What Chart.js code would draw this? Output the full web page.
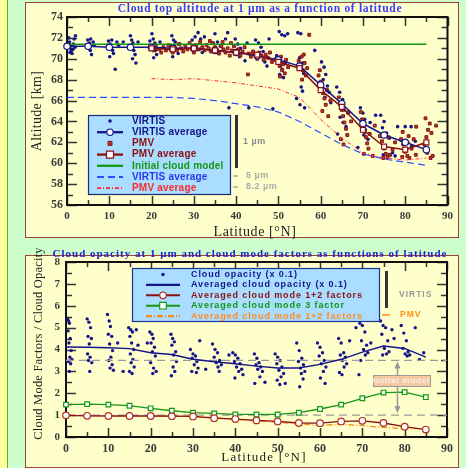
<!DOCTYPE html>
<html>
<head>
<meta charset="utf-8">
<script src="https://cdn.jsdelivr.net/npm/chart.js@4/dist/chart.umd.min.js"></script>
<style>
  body { margin: 0; width: 466px; height: 468px; background: #ccffcc; position: relative; overflow: hidden; }
  #strip { position: absolute; left: 0; top: 0; width: 7px; height: 468px; background: #ffff99; border-right: 1px solid #66aa33; }
  .panel { position: absolute; background: #ffffcc; border: 1px solid #a0403a; }
  #p1 { left: 25px; top: 2px; width: 432px; height: 234px; }
  #p2 { left: 25px; top: 255px; width: 432px; height: 211px; }
  canvas { position: absolute; }
  #c1 { left: 25px; top: 0px; }
  #c2 { left: 25px; top: 244px; }
</style>
</head>
<body>
<div id="strip"></div>
<div class="panel" id="p1"></div>
<div class="panel" id="p2"></div>
<canvas id="c1" width="433" height="240"></canvas>
<canvas id="c2" width="433" height="224"></canvas>
<script>
// ---------- Data: cloud top altitude (upper chart) ----------
const latGrid = [0, 5, 10, 15, 20, 25, 30, 35, 40, 45, 50, 55, 60, 65, 70, 75, 80, 85];
const virtisAvg1um = [71.2, 71.2, 71.1, 71.1, 71.1, 71.0, 71.0, 70.8, 70.6, 70.3, 69.9, 69.3, 67.5, 65.7, 63.8, 62.7, 62.0, 61.3];
const pmvLat = [20, 25, 30, 35, 40, 45, 50, 55, 60, 65, 70, 75, 80, 85];
const pmvAvg1um = [71.0, 70.9, 71.0, 70.8, 70.6, 70.4, 69.7, 69.1, 67.0, 65.4, 63.2, 61.6, 61.3, 62.0];
const initialModelLat = [0, 85];
const initialModelAlt = [71.4, 71.4];
const virtisAvg5um = [66.3, 66.3, 66.3, 66.3, 66.3, 66.3, 66.2, 66.0, 65.7, 65.4, 64.9, 64.0, 62.9, 61.8, 60.9, 60.4, 60.1, 59.8];
const pmvAvg82um = [68.1, 68.0, 68.1, 67.9, 67.7, 67.4, 67.1, 66.3, 64.2, 62.4, 61.0, 60.5, 60.3, 60.5];

// individual retrievals [latitude, altitude km]
const virtisPoints = [
  [0.4,72.0],[0.6,71.6],[0.8,71.2],[1.0,70.8],[1.2,70.5],[1.5,71.4],[1.7,71.9],[2.0,72.2],[1.4,70.9],[0.7,70.6],[1.9,71.1],
  [4.9,71.8],[5.3,71.5],[5.6,71.9],[5.1,71.1],[5.5,70.8],[5.8,70.4],[6.2,71.6],[6.4,71.3],
  [9.8,71.7],[10.2,71.4],[10.6,71.8],[10.4,71.1],[10.8,70.8],[11.0,70.5],[10.1,70.2],[11.4,69.0],[11.8,71.6],[12.2,71.3],[13.3,71.6],
  [15.0,72.2],[15.3,71.8],[15.6,71.5],[15.2,71.1],[15.8,70.8],[16.1,70.4],[15.5,70.0],[16.3,69.6],[16.8,71.6],
  [19.6,71.7],[20.1,72.4],[20.4,71.9],[20.8,71.5],[20.3,71.1],[20.9,70.8],[21.2,70.4],[20.5,70.1],[22.0,71.6],
  [24.8,72.2],[25.2,71.8],[25.6,71.6],[25.3,71.2],[25.9,70.9],[26.3,70.5],[25.0,70.2],[26.7,71.4],
  [29.6,71.8],[30.3,72.1],[31.0,72.5],[31.6,71.9],[30.6,71.3],[31.3,70.9],[32.0,70.6],[32.5,72.1],
  [35.0,72.4],[35.6,71.6],[36.3,71.2],[37.0,70.8],[35.8,70.5],[37.5,71.9],[38.0,72.5],
  [39.8,71.9],[40.4,71.4],[41.0,71.0],[41.5,70.6],[40.8,70.2],[42.1,69.8],[42.6,71.5],
  [44.6,71.8],[45.3,71.5],[45.9,71.1],[46.4,70.7],[45.5,70.2],[46.8,69.7],[47.3,69.3],[47.8,71.9],
  [50.2,72.6],[50.8,72.3],[51.5,72.2],[52.2,72.4],[54.6,72.5],[55.3,72.4],
  [49.6,70.3],[50.2,69.8],[50.5,69.3],[50.9,69.0],[50.3,68.5],[51.2,68.2],[51.6,69.6],
  [55.0,70.1],[55.6,69.6],[55.3,69.0],[56.0,68.6],[55.4,67.3],[55.7,66.9],[55.1,65.6],[56.2,65.3],[54.3,66.2],
  [38.3,65.3],[43.0,65.3],[48.7,65.2],
  [58.6,70.8],[60.2,69.7],[60.8,69.2],[61.2,68.5],[60.6,68.0],[61.6,67.4],[60.4,66.9],[61.0,66.3],[62.0,66.8],[62.4,65.8],
  [63.8,67.3],[64.5,66.8],[65.2,66.1],[64.8,65.6],[65.6,65.1],[64.6,64.4],[65.3,63.9],[66.0,63.5],[66.4,64.8],[64.0,62.8],[68.8,61.5],
  [69.4,65.3],[70.0,64.8],[70.4,64.2],[69.8,63.7],[70.6,63.2],[70.2,62.7],[71.2,62.3],[71.7,63.9],
  [73.0,64.6],[74.2,64.6],[75.0,64.0],[74.6,63.4],[75.6,62.9],[76.2,62.4],[77.0,61.0],[77.6,60.7],[74.8,60.8],[76.4,60.8],
  [78.2,63.5],[80.0,63.5],[81.4,63.5],[79.0,62.2],[80.6,62.0],[81.5,61.6],[82.4,62.1]
];
const pmvPoints = [
  [20.0,71.0],[20.5,70.8],[21.0,71.2],[21.8,70.9],[22.3,70.6],[22.8,71.1],[23.4,70.8],[24.0,71.3],[24.5,70.9],[25.0,70.6],[25.5,71.1],[26.0,70.8],
  [26.5,71.4],[27.0,71.0],[27.5,70.7],[28.0,71.2],[28.5,70.9],[29.0,71.5],[29.5,71.0],[30.0,70.6],[30.5,71.3],[31.0,70.9],[31.5,71.6],[32.0,71.1],
  [32.5,70.8],[33.0,71.3],[33.5,71.0],[34.0,70.7],[34.5,71.5],[35.0,71.1],[35.5,70.8],[36.0,70.5],[36.5,71.2],[37.0,70.9],[33.8,71.7],[36.8,71.6],
  [37.5,70.6],[38.0,71.0],[38.5,70.3],[39.0,70.8],[39.5,71.2],[40.0,70.5],[40.5,70.9],[41.0,70.3],[41.5,70.7],[42.0,71.1],[42.8,68.5],[38.8,71.5],
  [43.0,70.5],[43.5,70.2],[44.0,70.7],[44.5,70.4],[45.0,70.0],[45.5,70.6],[46.0,70.3],[46.5,69.9],[47.0,70.4],[47.5,70.1],[48.0,70.6],[48.5,69.7],
  [49.5,70.0],[50.0,69.6],[50.3,69.3],[50.6,70.2],[50.9,68.9],[51.2,69.5],[51.5,68.6],[50.4,68.3],[51.8,69.9],[52.3,69.2],
  [54.8,69.8],[55.2,69.4],[55.5,70.2],[55.8,68.9],[56.2,69.6],[56.5,68.4],[55.6,68.0],[56.0,70.4],[57.3,72.3],[56.8,69.1],
  [59.5,68.4],[60.0,67.8],[60.3,67.2],[60.6,66.7],[60.9,66.2],[61.2,65.6],[61.5,67.0],[60.4,65.0],[61.8,64.5],[62.3,66.0],[59.8,68.9],
  [64.3,66.3],[64.6,65.7],[65.0,65.1],[65.3,64.5],[65.6,63.9],[66.0,63.3],[66.3,62.7],[64.8,62.3],[65.4,61.8],[66.6,64.9],[67.2,64.0],
  [69.5,64.9],[69.8,64.2],[70.1,63.6],[70.4,63.0],[70.7,62.5],[71.0,61.9],[71.3,61.4],[70.2,60.9],[71.6,62.8],[72.3,60.7],[72.8,63.6],
  [74.0,62.6],[74.5,62.1],[75.0,61.4],[75.4,60.9],[75.8,60.6],[76.4,60.8],[77.0,61.3],[74.8,60.5],[77.6,62.0],[76.0,62.5],
  [79.0,62.3],[79.5,61.8],[80.0,61.1],[80.5,60.7],[81.0,60.5],[81.5,61.4],[82.0,62.3],[80.8,62.6],[82.5,60.8],[79.3,60.6],[79.4,63.0],[82.6,63.5],
  [84.5,61.8],[85.0,62.5],[85.4,63.2],[85.8,63.8],[86.2,62.9],[85.2,61.0],[86.5,60.7],[84.8,64.3],[87.3,63.6],[86.0,60.5]
];

// ---------- Data: cloud opacity & mode factors (lower chart) ----------
const opacityAvg = [4.11, 4.10, 4.08, 4.04, 3.85, 3.77, 3.55, 3.44, 3.35, 3.24, 3.16, 3.16, 3.32, 3.55, 3.88, 4.16, 4.05, 3.65];
const mode12Avg = [0.99, 0.97, 0.96, 0.96, 0.96, 0.95, 0.94, 0.86, 0.82, 0.76, 0.71, 0.64, 0.63, 0.71, 0.74, 0.64, 0.47, 0.34];
const mode3Avg = [1.48, 1.50, 1.48, 1.43, 1.31, 1.20, 1.11, 1.08, 1.03, 1.03, 1.03, 1.11, 1.28, 1.48, 1.77, 2.03, 2.05, 1.82];
const pmvMode12Lat = [20, 25, 30, 35, 40, 45, 50, 55, 60, 65, 70, 75, 80, 85];
const pmvMode12 = [0.96, 0.95, 0.95, 0.88, 0.81, 0.74, 0.67, 0.60, 0.53, 0.58, 0.52, 0.44, 0.38, 0.38];
const initialModelLevels = [3.5, 1.0];
const opacityPoints = [
  [0.4,5.4],[0.6,5.3],[0.8,5.2],[0.5,4.85],[1.0,4.5],[0.7,4.3],[1.2,3.95],[0.9,3.65],[1.4,3.55],[0.6,3.45],[1.1,3.35],[0.8,3.0],
  [5.0,5.4],[5.4,5.25],[5.8,5.0],[5.2,4.6],[6.0,4.5],[5.5,4.25],[5.1,3.8],[5.7,3.65],[5.3,3.5],[6.1,3.4],[5.6,3.0],
  [9.8,5.6],[10.2,5.3],[10.5,5.05],[10.0,4.7],[10.8,4.6],[10.3,4.25],[11.0,3.95],[10.6,3.65],[10.1,3.5],[10.9,3.3],[10.4,3.15],[11.2,3.05],[12.2,4.3],[13.5,3.0],
  [14.8,5.0],[15.3,4.9],[15.7,4.8],[15.1,4.6],[15.5,4.3],[16.0,4.0],[15.2,3.8],[15.8,3.55],[15.4,3.4],[16.1,3.2],[15.0,3.0],[15.6,2.9],[16.6,4.9],[17.0,4.2],
  [19.2,4.3],[19.8,4.8],[20.3,4.7],[20.6,4.5],[20.1,4.3],[20.9,4.1],[20.4,3.9],[21.1,3.7],[20.0,3.4],[20.7,3.15],[21.3,3.0],[20.5,2.9],
  [24.8,4.7],[25.2,4.5],[25.6,4.35],[25.0,4.2],[25.9,3.9],[25.4,3.75],[26.1,3.45],[25.3,3.2],[25.7,3.0],[24.9,2.8],
  [29.4,4.0],[30.0,3.8],[30.6,3.7],[29.8,3.6],[30.9,3.45],[30.3,3.3],[31.2,3.15],[29.7,3.0],[30.8,2.95],[31.6,4.4],[33.0,3.1],
  [34.6,4.25],[35.2,4.0],[35.8,3.85],[35.0,3.65],[36.3,3.5],[35.5,3.4],[36.7,3.3],[35.9,3.2],[36.2,3.0],[38.5,3.75],
  [39.4,3.85],[40.0,3.75],[40.6,3.6],[39.8,3.45],[41.1,3.35],[40.3,3.2],[41.5,3.1],[40.8,3.0],[41.8,2.85],[39.9,2.7],
  [44.5,3.8],[45.1,3.6],[45.6,3.4],[44.9,3.3],[46.0,3.2],[45.3,3.1],[46.4,3.0],[45.8,2.75],[44.6,2.45],[47.0,2.5],
  [49.4,3.8],[50.0,3.65],[50.6,3.5],[49.8,3.35],[51.0,3.2],[50.3,3.05],[51.4,2.9],[50.8,2.75],[49.9,2.6],[50.5,2.4],[51.8,2.45],
  [54.5,4.3],[55.1,3.95],[55.7,3.6],[54.9,3.45],[56.1,3.3],[55.4,3.15],[56.4,3.0],[55.6,2.9],[56.0,2.65],[55.2,2.3],
  [59.4,4.3],[60.0,4.1],[60.6,3.85],[59.8,3.7],[61.0,3.5],[60.3,3.35],[61.4,3.2],[60.8,3.0],[60.1,2.7],[61.2,2.45],
  [64.4,4.5],[65.0,4.3],[65.6,3.85],[64.8,3.75],[66.0,3.65],[65.3,3.5],[66.3,3.35],[65.7,3.2],[64.6,2.95],[65.2,2.85],[67.0,4.4],
  [68.5,5.0],[69.4,5.2],[70.0,5.1],[70.6,4.8],[69.8,4.4],[71.0,4.2],[70.3,4.0],[71.3,3.85],[70.7,3.75],[69.6,3.5],[69.2,2.85],[72.0,4.3],
  [74.3,5.3],[74.9,5.1],[75.5,5.0],[74.6,4.7],[76.0,4.4],[75.2,4.05],[76.3,3.9],[75.7,3.8],[74.8,3.75],[77.0,4.9],[77.5,4.5],
  [79.2,5.1],[79.8,4.75],[80.4,4.4],[79.6,4.05],[80.8,3.9],[80.1,3.8],[81.2,3.75],[80.6,3.7],[82.5,5.0],[83.5,3.55],[84.5,3.85]
];

// Colours
const NAVY = '#15158a';
const DARKRED = '#8b1010';
const GREEN = '#139913';
const BLUE = '#2a4dff';
const RED = '#ff2a2a';
const ORANGE = '#ff8c1a';

const toXY = (xs, ys) => xs.map((x, i) => ({ x: x, y: ys[i] }));
const pairs = arr => arr.map(p => ({ x: p[0], y: p[1] }));

function drawMarker(ctx, style, r, x, y, fill, stroke, lw) {
    ctx.beginPath();
    if (style === 'rect') {
        ctx.rect(x - r, y - r, 2 * r, 2 * r);
    } else {
        ctx.arc(x, y, r, 0, Math.PI * 2);
    }
    ctx.fillStyle = fill;
    ctx.fill();
    if (lw > 0) {
        ctx.lineWidth = lw;
        ctx.strokeStyle = stroke;
        ctx.stroke();
    }
}

function text(ctx, str, x, y, font, color, align, spacing) {
    ctx.font = font;
    ctx.fillStyle = color;
    ctx.textAlign = align || 'left';
    ctx.textBaseline = 'middle';
    ctx.letterSpacing = (spacing || 0) + 'px';
    ctx.fillText(str, x, y);
    ctx.letterSpacing = '0px';
}

// Frame, inward ticks, titles, legend box and side notes
const decorPlugin = {
    id: 'decor',
    beforeDatasetsDraw(chart, args, opts) {
        const ctx = chart.ctx;
        const a = chart.chartArea;
        const xs = chart.scales.x;
        const ys = chart.scales.y;
        ctx.save();
        ctx.strokeStyle = '#333';
        ctx.lineWidth = 1.5;
        const nx = Math.round((xs.max - xs.min) / opts.xMinor);
        for (let i = 0; i <= nx; i++) {
            const px = Math.round(xs.getPixelForValue(xs.min + i * opts.xMinor)) + 0.5;
            const len = (i % 2 === 0) ? 9 : 5;
            ctx.beginPath();
            ctx.moveTo(px, a.bottom); ctx.lineTo(px, a.bottom - len);
            ctx.moveTo(px, a.top); ctx.lineTo(px, a.top + len);
            ctx.stroke();
        }
        const ny = Math.round((ys.max - ys.min) / opts.yMinor);
        for (let i = 0; i <= ny; i++) {
            const py = Math.round(ys.getPixelForValue(ys.min + i * opts.yMinor)) + 0.5;
            const len = (i % 2 === 0) ? 10 : 6;
            ctx.beginPath();
            ctx.moveTo(a.left, py); ctx.lineTo(a.left + len, py);
            ctx.moveTo(a.right, py); ctx.lineTo(a.right - len, py);
            ctx.stroke();
        }
        ctx.strokeStyle = '#111';
        ctx.lineWidth = 2;
        ctx.strokeRect(a.left, a.top, a.right - a.left, a.bottom - a.top);
        ctx.restore();
    },
    afterDraw(chart, args, opts) {
        const ctx = chart.ctx;
        const a = chart.chartArea;
        ctx.save();
        // titles
        const t = opts.title;
        text(ctx, t.text, t.x, t.y, t.font, t.color, 'center', t.spacing);
        const xt = opts.xTitle;
        text(ctx, xt.text, xt.x, xt.y, xt.font, '#222', 'center', xt.spacing);
        const yt = opts.yTitle;
        ctx.save();
        ctx.translate(yt.x, (a.top + a.bottom) / 2 + (yt.dy || 0));
        ctx.rotate(-Math.PI / 2);
        text(ctx, yt.text, 0, 0, yt.font, '#222', 'center', yt.spacing);
        ctx.restore();

        // legend
        const lg = opts.legend;
        ctx.fillStyle = '#aaddff';
        ctx.fillRect(lg.box[0], lg.box[1], lg.box[2], lg.box[3]);
        ctx.strokeStyle = lg.border;
        ctx.lineWidth = 1.2;
        ctx.strokeRect(lg.box[0] + 0.5, lg.box[1] + 0.5, lg.box[2], lg.box[3]);
        lg.rows.forEach((row, i) => {
            const ds = chart.data.datasets[row.ds];
            const yy = lg.rowY + i * lg.rowStep;
            const mx = (lg.lineX[0] + lg.lineX[1]) / 2;
            if (ds.showLine) {
                ctx.setLineDash(ds.borderDash || []);
                ctx.strokeStyle = ds.borderColor;
                ctx.lineWidth = ds.borderWidth + 0.8;
                ctx.beginPath();
                ctx.moveTo(lg.lineX[0], yy);
                ctx.lineTo(lg.lineX[1], yy);
                ctx.stroke();
                ctx.setLineDash([]);
            }
            if (ds.pointRadius > 0) {
                drawMarker(ctx, ds.pointStyle, ds.pointRadius, mx, yy,
                    ds.pointBackgroundColor, ds.pointBorderColor || ds.borderColor, ds.pointBorderWidth || 0);
            }
            text(ctx, ds.label, lg.textX, yy, lg.font, row.color, 'left', lg.spacing);
        });

        // side notes next to the legend
        opts.notes.forEach(n => {
            if (n.bar) {
                ctx.fillStyle = n.color;
                ctx.fillRect(n.bar[0], n.bar[1], n.bar[2], n.bar[3]);
            }
            if (n.dash) {
                ctx.strokeStyle = n.color;
                ctx.lineWidth = 1.5;
                ctx.beginPath();
                ctx.moveTo(n.dash[0], n.dash[2]);
                ctx.lineTo(n.dash[1], n.dash[2]);
                ctx.stroke();
            }
            if (n.text) {
                text(ctx, n.text, n.x, n.y, n.font, n.color, 'left', n.spacing);
            }
        });

        // "Initial model" arrow + label
        if (opts.initialModel) {
            const im = opts.initialModel;
            const px = chart.scales.x.getPixelForValue(im.lat);
            const yTop = chart.scales.y.getPixelForValue(im.levels[0]) + 1;
            const yBot = chart.scales.y.getPixelForValue(im.levels[1]) - 2;
            ctx.strokeStyle = '#999';
            ctx.fillStyle = '#999';
            ctx.lineWidth = 1.5;
            ctx.beginPath();
            ctx.moveTo(px, yTop + 3);
            ctx.lineTo(px, yBot - 3);
            ctx.stroke();
            ctx.beginPath();
            ctx.moveTo(px, yTop); ctx.lineTo(px - 3, yTop + 7); ctx.lineTo(px + 3, yTop + 7); ctx.closePath();
            ctx.moveTo(px, yBot); ctx.lineTo(px - 3, yBot - 7); ctx.lineTo(px + 3, yBot - 7); ctx.closePath();
            ctx.fill();
            ctx.fillStyle = '#f7c9a0';
            ctx.fillRect(im.box[0], im.box[1], im.box[2], im.box[3]);
            ctx.strokeStyle = '#999';
            ctx.lineWidth = 1;
            ctx.strokeRect(im.box[0] + 0.5, im.box[1] + 0.5, im.box[2], im.box[3]);
            text(ctx, im.text, im.box[0] + im.box[2] / 2, im.box[1] + im.box[3] / 2 + 0.5,
                'bold 8px "Liberation Sans"', '#f2f2f2', 'center', 0.8);
        }
        ctx.restore();
    }
};

function axis(min, max, step, size, pad, fit) {
    return {
        type: 'linear',
        min: min,
        max: max,
        ticks: {
            stepSize: step,
            padding: pad,
            color: '#3a3a3a',
            font: { family: '"Liberation Serif"', size: size, weight: 'bold' }
        },
        grid: { display: false, drawTicks: false },
        border: { display: false },
        afterFit: fit
    };
}

// ---------- Upper chart ----------
new Chart(document.getElementById('c1'), {
    type: 'scatter',
    data: {
        datasets: [
            { label: 'VIRTIS', data: pairs(virtisPoints), showLine: false, pointStyle: 'circle', pointRadius: 1.8,
              pointBackgroundColor: NAVY, pointBorderWidth: 0, borderColor: NAVY, order: 7 },
            { label: 'VIRTIS average', data: toXY(latGrid, virtisAvg1um), showLine: true, borderColor: NAVY, borderWidth: 1.5,
              pointStyle: 'circle', pointRadius: 3.2, pointBackgroundColor: '#ffffff', pointBorderColor: NAVY, pointBorderWidth: 1.2, order: 1 },
            { label: 'PMV', data: pairs(pmvPoints), showLine: false, pointStyle: 'rect', pointRadius: 2,
              pointBackgroundColor: '#a84040', pointBorderColor: DARKRED, pointBorderWidth: 1, borderColor: DARKRED, order: 6 },
            { label: 'PMV average', data: toXY(pmvLat, pmvAvg1um), showLine: true, borderColor: DARKRED, borderWidth: 1.5,
              pointStyle: 'rect', pointRadius: 3.5, pointBackgroundColor: '#ffffff', pointBorderColor: DARKRED, pointBorderWidth: 1.2, order: 0 },
            { label: 'Initial cloud model', data: toXY(initialModelLat, initialModelAlt), showLine: true, borderColor: GREEN,
              borderWidth: 1.5, pointRadius: 0, order: 5 },
            { label: 'VIRTIS average', data: toXY(latGrid, virtisAvg5um), showLine: true, borderColor: BLUE, borderWidth: 1.2,
              borderDash: [7, 4], pointRadius: 0, order: 3 },
            { label: 'PMV average', data: toXY(pmvLat, pmvAvg82um), showLine: true, borderColor: RED, borderWidth: 1,
              borderDash: [4, 2, 1, 2], pointRadius: 0, order: 4 }
        ]
    },
    options: {
        responsive: false,
        animation: false,
        events: [],
        clip: 6,
        layout: { padding: { left: 0, right: 10, top: 17, bottom: 0 } },
        plugins: {
            legend: { display: false },
            tooltip: { enabled: false },
            decor: {
                xMinor: 5, yMinor: 1,
                title: { text: 'Cloud top altitude at 1 µm as a function of latitude', x: 235, y: 9,
                         font: 'bold 11.5px "Liberation Serif"', color: '#3a3aff', spacing: 0.7 },
                xTitle: { text: 'Latitude [°N]', x: 230, y: 232, font: '14px "Liberation Serif"', spacing: 0.6 },
                yTitle: { text: 'Altitude [km]', x: 12, font: '14px "Liberation Serif"', spacing: 0.3 },
                legend: {
                    box: [63, 115, 142, 79], border: '#1a2a80', lineX: [72, 98], textX: 107,
                    rowY: 121, rowStep: 11.2, font: 'bold 10px "Liberation Sans"', spacing: 0.2,
                    rows: [
                        { ds: 0, color: NAVY }, { ds: 1, color: NAVY }, { ds: 2, color: DARKRED },
                        { ds: 3, color: DARKRED }, { ds: 4, color: GREEN }, { ds: 5, color: '#2a3aee' },
                        { ds: 6, color: RED }
                    ]
                },
                notes: [
                    { bar: [210, 115, 3, 53], color: '#333' },
                    { text: '1 µm', x: 218, y: 142, font: 'bold 9px "Liberation Sans"', color: '#8a8a8a', spacing: 0.5 },
                    { dash: [208, 213, 176], text: '5 µm', x: 221, y: 176, font: 'bold 9px "Liberation Sans"', color: '#aaaaaa', spacing: 0.5 },
                    { dash: [208, 213, 187], text: '8.2 µm', x: 221, y: 187, font: 'bold 9px "Liberation Sans"', color: '#aaaaaa', spacing: 0.5 }
                ]
            }
        },
        scales: {
            x: axis(0, 90, 10, 11, 5, s => { s.height = 35; }),
            y: axis(56, 74, 2, 12, 4, s => { s.width = 42; })
        }
    },
    plugins: [decorPlugin]
});

// ---------- Lower chart ----------
new Chart(document.getElementById('c2'), {
    type: 'scatter',
    data: {
        datasets: [
            { label: 'Cloud opacity (x 0.1)', data: pairs(opacityPoints), showLine: false, pointStyle: 'circle', pointRadius: 1.7,
              pointBackgroundColor: NAVY, pointBorderWidth: 0, borderColor: NAVY, order: 6 },
            { label: 'Averaged cloud opacity (x 0.1)', data: toXY(latGrid, opacityAvg), showLine: true, borderColor: NAVY,
              borderWidth: 1.5, pointRadius: 0, order: 3 },
            { label: 'Averaged cloud mode 1+2 factors', data: toXY(latGrid, mode12Avg), showLine: true, borderColor: DARKRED,
              borderWidth: 1.3, pointStyle: 'circle', pointRadius: 3.3, pointBackgroundColor: '#ffffff',
              pointBorderColor: '#b03020', pointBorderWidth: 1.2, order: 0 },
            { label: 'Averaged cloud mode 3 factor', data: toXY(latGrid, mode3Avg), showLine: true, borderColor: GREEN,
              borderWidth: 1.3, pointStyle: 'rect', pointRadius: 3.3, pointBackgroundColor: '#ffffff',
              pointBorderColor: GREEN, pointBorderWidth: 1.2, order: 1 },
            { label: 'Averaged cloud mode 1+2 factors', data: toXY(pmvMode12Lat, pmvMode12), showLine: true, borderColor: ORANGE,
              borderWidth: 1.3, borderDash: [6, 2, 1, 2], pointRadius: 0, order: 2 },
            { label: 'Initial model', data: toXY([0, 90], [initialModelLevels[0], initialModelLevels[0]]), showLine: true,
              borderColor: '#9a9a9a', borderWidth: 1.3, borderDash: [8, 5], pointRadius: 0, order: 5 },
            { label: 'Initial model', data: toXY([0, 90], [initialModelLevels[1], initialModelLevels[1]]), showLine: true,
              borderColor: '#9a9a9a', borderWidth: 1.3, borderDash: [8, 5], pointRadius: 0, order: 5 }
        ]
    },
    options: {
        responsive: false,
        animation: false,
        events: [],
        clip: 6,
        layout: { padding: { left: 0, right: 10, top: 18, bottom: 0 } },
        plugins: {
            legend: { display: false },
            tooltip: { enabled: false },
            decor: {
                xMinor: 5, yMinor: 0.5,
                title: { text: 'Cloud opacity at 1 µm and cloud mode factors as functions of latitude', x: 225, y: 10,
                         font: 'bold 11px "Liberation Serif"', color: '#2222cc', spacing: 1.0 },
                xTitle: { text: 'Latitude [°N]', x: 239, y: 214, font: '13px "Liberation Serif"', spacing: 1.2 },
                yTitle: { text: 'Cloud Mode Factors / Cloud Opacity', x: 14, dy: -6, font: '12.5px "Liberation Serif"', spacing: 0.2 },
                legend: {
                    box: [107, 24, 247, 53], border: '#1a3399', lineX: [121, 155], textX: 166,
                    rowY: 30.5, rowStep: 10.4, font: 'bold 9px "Liberation Sans"', spacing: 0.9,
                    rows: [
                        { ds: 0, color: NAVY }, { ds: 1, color: NAVY }, { ds: 2, color: DARKRED },
                        { ds: 3, color: GREEN }, { ds: 4, color: ORANGE }
                    ]
                },
                notes: [
                    { bar: [360, 27, 3, 37], color: '#333' },
                    { text: 'VIRTIS', x: 374, y: 51, font: 'bold 8.5px "Liberation Sans"', color: '#999999', spacing: 1 },
                    { dash: [357, 365, 71], text: 'PMV', x: 375, y: 71, font: 'bold 8.5px "Liberation Sans"', color: ORANGE, spacing: 1 }
                ],
                initialModel: { lat: 78.3, levels: initialModelLevels, box: [348, 131, 57, 11], text: 'Initial model' }
            }
        },
        scales: {
            x: axis(0, 90, 10, 12, 5, s => { s.height = 31; }),
            y: axis(0, 8, 1, 11, 6, s => { s.width = 41; })
        }
    },
    plugins: [decorPlugin]
});
</script>
</body>
</html>
